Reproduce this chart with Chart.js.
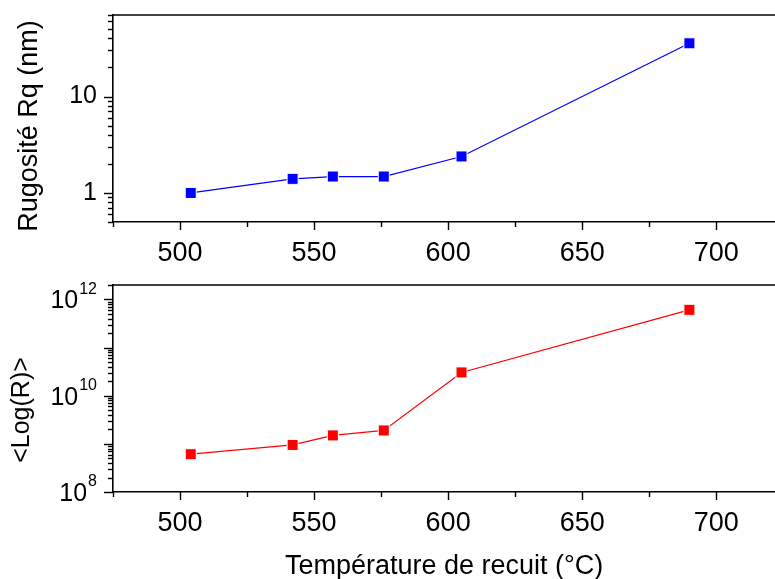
<!DOCTYPE html>
<html>
<head>
<meta charset="utf-8">
<script src="https://cdn.jsdelivr.net/npm/chart.js@4/dist/chart.umd.min.js"></script>
<style>
  html, body { margin: 0; padding: 0; background: #fff; }
  #wrap { position: relative; width: 775px; height: 579px; overflow: hidden; }
  canvas { position: absolute; left: 0; }
  #c1 { top: 0; }
  #c2 { top: 270px; }
</style>
</head>
<body>
<div id="wrap">
  <canvas id="c1" width="784" height="270"></canvas>
  <canvas id="c2" width="784" height="309"></canvas>
</div>
<script>
// ---- data ----
const temperatures = [504, 542, 557, 576, 605, 690];          // °C
const roughness    = [1.0, 1.40, 1.48, 1.48, 2.39, 35.6];     // Rq (nm)
const resistance   = [6.1e8, 9.5e8, 1.5e9, 1.9e9, 3.05e10, 6.1e11]; // <Log(R)>
const xTickLabels  = [500, 550, 600, 650, 700];
const topYLabels   = [1, 10];
const botYLabels   = [8, 10, 12];   // exponents of 10

const FONT = "'Liberation Sans', Arial, Helvetica, sans-serif";
const X_MIN = 475, X_MAX = 722;

function pts(ys) { return temperatures.map((t, i) => ({ x: t, y: ys[i] })); }

function line(ctx, x1, y1, x2, y2) {
  ctx.beginPath(); ctx.moveTo(x1, y1); ctx.lineTo(x2, y2); ctx.stroke();
}

// draws frame top line, minor/major tick marks, y title and (optionally) power-of-ten labels
const deco = {
  id: 'deco',
  afterDraw(chart, args, o) {
    const { ctx, chartArea: a, scales: { x, y } } = chart;
    ctx.save();
    ctx.strokeStyle = '#000';
    ctx.lineWidth = 1.6;
    line(ctx, a.left, a.top, a.right + 10, a.top);
    ctx.lineWidth = 1.4;
    // x ticks every 25, longer every 50
    for (let v = X_MIN; v <= X_MAX; v += 25) {
      const px = Math.round(x.getPixelForValue(v)) + 0.5;
      const len = (v % 50 === 0) ? 8 : 5;
      line(ctx, px, a.bottom, px, a.bottom + len);
    }
    // y log ticks
    const d0 = Math.floor(Math.log10(y.min)), d1 = Math.ceil(Math.log10(y.max));
    for (let d = d0; d <= d1; d++) {
      for (let m = 1; m <= 9; m++) {
        const v = m * Math.pow(10, d);
        if (v < y.min * 0.999 || v > y.max * 1.001) continue;
        const py = Math.round(y.getPixelForValue(v)) + 0.5;
        const len = (m === 1) ? 9 : 5;
        line(ctx, a.left - len, py, a.left, py);
      }
    }
    // power-of-ten labels
    if (o.powers) {
      ctx.fillStyle = '#000';
      ctx.textBaseline = 'middle';
      o.powers.forEach(e => {
        const py = y.getPixelForValue(Math.pow(10, e));
        const sup = String(e);
        ctx.font = '16px ' + FONT;
        const sw = ctx.measureText(sup).width;
        ctx.textAlign = 'right';
        ctx.fillText(sup, 97, py - 10);
        ctx.font = '25px ' + FONT;
        ctx.fillText('10', 97 - sw - 1, py + 2);
      });
    }
    // y title
    if (o.title) {
      ctx.fillStyle = '#000';
      ctx.font = o.title.size + 'px ' + FONT;
      ctx.translate(o.title.x, o.title.y);
      ctx.rotate(-Math.PI / 2);
      ctx.textAlign = 'center';
      ctx.textBaseline = 'alphabetic';
      ctx.fillText(o.title.text, 0, 0);
    }
    ctx.restore();
  }
};

function makeChart(id, data, color, yMin, yMax, xHeight, yOpts, xTitle, decoOpts) {
  return new Chart(document.getElementById(id), {
    type: 'line',
    data: {
      datasets: [{
        data: data,
        borderColor: color,
        backgroundColor: color,
        borderWidth: 1.2,
        pointStyle: 'rect',
        pointRadius: 7.8,
        pointHoverRadius: 7.8,
        pointBackgroundColor: color,
        pointBorderColor: '#ffffff',
        pointBorderWidth: 1,
        tension: 0
      }]
    },
    options: {
      responsive: false,
      animation: false,
      devicePixelRatio: 1,
      layout: { padding: { top: 15, right: 0, left: 0, bottom: 0 } },
      plugins: { legend: { display: false }, tooltip: { enabled: false }, deco: decoOpts },
      scales: {
        x: {
          type: 'linear', min: X_MIN, max: X_MAX,
          afterFit: s => { s.height = xHeight; s.paddingLeft = 0; s.paddingRight = 0; },
          afterBuildTicks: s => { s.ticks = xTickLabels.map(v => ({ value: v })); },
          grid: { display: true, drawOnChartArea: false, drawTicks: false },
          border: { display: true, color: '#000', width: 1.6 },
          ticks: { color: '#000', font: { family: FONT, size: 27 }, padding: 15, maxRotation: 0, callback: v => String(v) },
          title: xTitle
        },
        y: {
          type: 'logarithmic', min: yMin, max: yMax,
          afterFit: s => { s.width = 113; s.paddingTop = 0; s.paddingBottom = 0; },
          afterBuildTicks: s => { s.ticks = yOpts.labels.map(v => ({ value: v })); },
          grid: { display: true, drawOnChartArea: false, drawTicks: false },
          border: { display: true, color: '#000', width: 1.6 },
          ticks: { display: yOpts.show, color: '#000', font: { family: FONT, size: 25 }, padding: 16, callback: v => String(v) }
        }
      }
    },
    plugins: [deco]
  });
}

makeChart('c1', pts(roughness), '#0000ff', 0.5, 70, 48,
  { labels: topYLabels, show: true },
  { display: false },
  { title: { text: 'Rugosité Rq (nm)', x: 37, y: 126, size: 27 } });

makeChart('c2', pts(resistance), '#ff0000', 1e8, 2e12, 87,
  { labels: botYLabels.map(e => Math.pow(10, e)), show: false },
  { display: true, text: 'Température de recuit (°C)', color: '#000', font: { family: FONT, size: 27 }, padding: { top: 0, bottom: -4 } },
  { powers: botYLabels, title: { text: '<Log(R)>', x: 29, y: 140, size: 25 } });
</script>
</body>
</html>
